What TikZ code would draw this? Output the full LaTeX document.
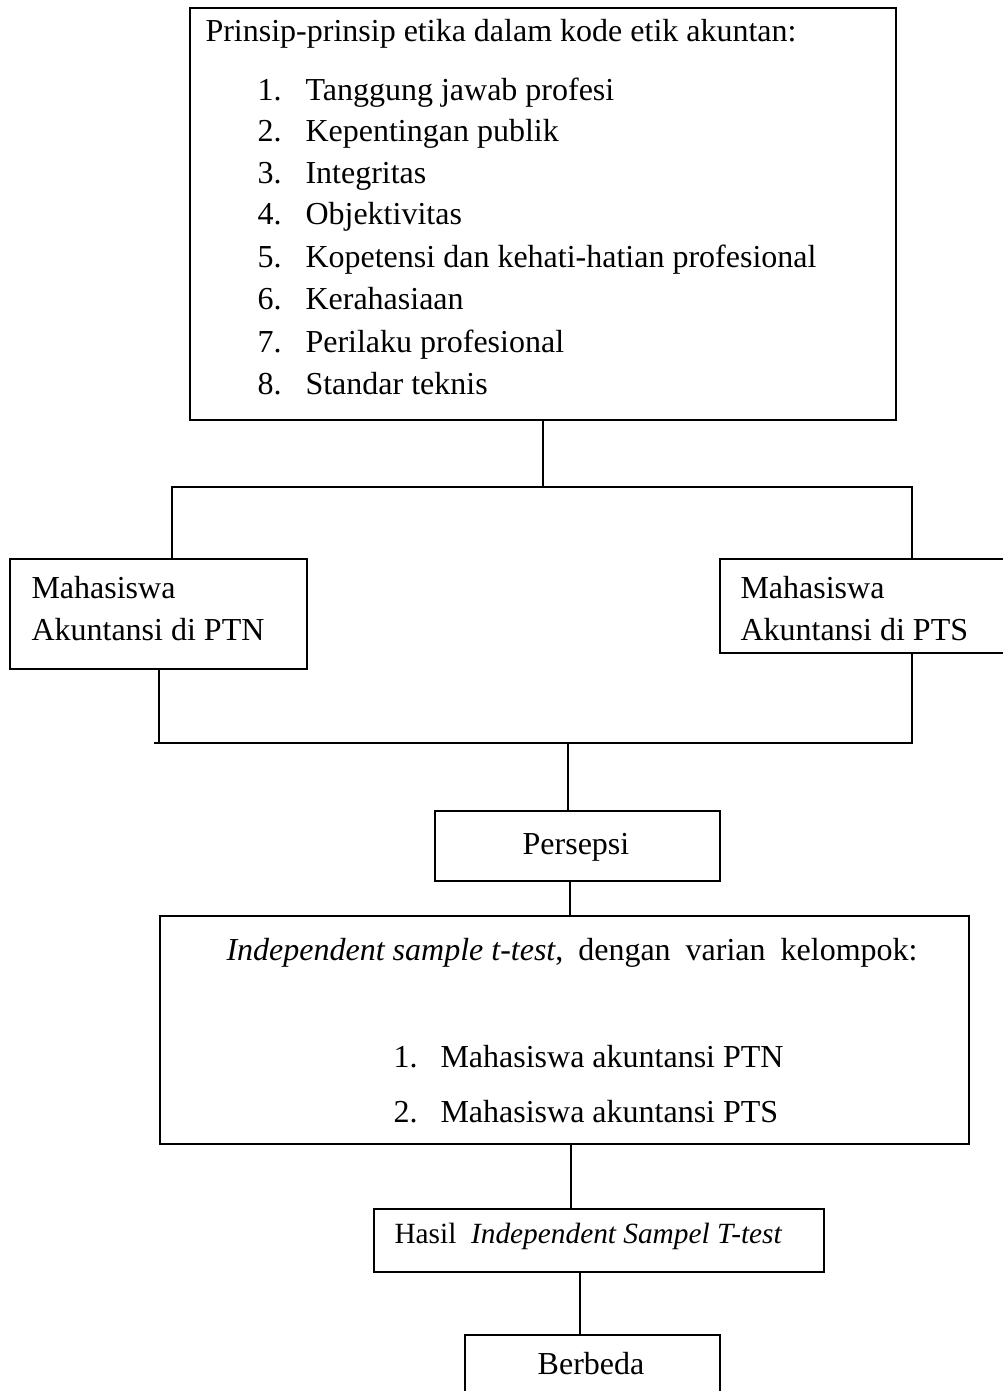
\documentclass[tikz,border=0pt]{standalone}
\usepackage{fontspec}
\setmainfont{Liberation Serif}

\newlength{\du}
\setlength{\du}{0.375pt}

\tikzset{
  diabox/.style={draw=dialinecolor, line width=2.4\du, inner sep=0pt, anchor=north west},
  dialabel/.style={anchor=base west, inner sep=0pt},
  diamid/.style={anchor=base, inner sep=0pt},
  dialine/.style={draw=dialinecolor, line width=2.4\du},
  every node/.style={font=\fontsize{12}{14}\selectfont}
}

\begin{document}
\begin{tikzpicture}
\pgftransformxscale{1.000000}
\pgftransformyscale{-1.000000}
\definecolor{dialinecolor}{rgb}{0.000000, 0.000000, 0.000000}
\pgfsetstrokecolor{dialinecolor}
\useasboundingbox (0\du,0\du) rectangle (1003\du,1391\du);
\clip (0\du,0\du) rectangle (1003\du,1391\du);
% prinsip etika
\node[diabox, minimum width=706\du, minimum height=412\du] (prinsip) at (189\du,7\du) {};
\node[dialabel] (judul) at (205\du,41\du) {Prinsip-prinsip etika dalam kode etik akuntan:};
\node[dialabel] (butir1) at (257\du,100\du) {\makebox[48\du][l]{1.}Tanggung jawab profesi};
\node[dialabel] (butir2) at (257\du,141\du) {\makebox[48\du][l]{2.}Kepentingan publik};
\node[dialabel] (butir3) at (257\du,183\du) {\makebox[48\du][l]{3.}Integritas};
\node[dialabel] (butir4) at (257\du,224\du) {\makebox[48\du][l]{4.}Objektivitas};
\node[dialabel] (butir5) at (257\du,267\du) {\makebox[48\du][l]{5.}Kopetensi dan kehati-hatian profesional};
\node[dialabel] (butir6) at (257\du,309\du) {\makebox[48\du][l]{6.}Kerahasiaan};
\node[dialabel] (butir7) at (257\du,352\du) {\makebox[48\du][l]{7.}Perilaku profesional};
\node[dialabel] (butir8) at (257\du,394\du) {\makebox[48\du][l]{8.}Standar teknis};
% mahasiswa
\node[diabox, minimum width=297\du, minimum height=110\du] (ptn) at (9\du,558\du) {};
\node[dialabel] (ptnA) at (31\du,598\du) {Mahasiswa};
\node[dialabel] (ptnB) at (31\du,640\du) {Akuntansi di PTN};
\node[diabox, minimum width=300\du, minimum height=94\du] (pts) at (719\du,558\du) {};
\node[dialabel] (ptsA) at (740\du,598\du) {Mahasiswa};
\node[dialabel] (ptsB) at (740\du,640\du) {Akuntansi di PTS};
% persepsi
\node[diabox, minimum width=285\du, minimum height=70\du] (persepsi) at (434\du,810\du) {};
\node[diamid] (tpersepsi) at (576\du,854\du) {Persepsi};
% uji t
\node[diabox, minimum width=809\du, minimum height=228\du] (uji) at (159\du,915\du) {};
\node[dialabel] (ujiJudul) at (226\du,960\du) {\textit{Independent sample t-test},\hspace{15\du}dengan\hspace{15\du}varian\hspace{15\du}kelompok:};
\node[dialabel] (uji1) at (393\du,1067\du) {\makebox[47\du][l]{1.}Mahasiswa akuntansi PTN};
\node[dialabel] (uji2) at (393\du,1122\du) {\makebox[47\du][l]{2.}Mahasiswa akuntansi PTS};
% hasil
\node[diabox, minimum width=450\du, minimum height=63\du] (hasil) at (373\du,1208\du) {};
\node[dialabel, font=\fontsize{11}{13}\selectfont] (thasil) at (394\du,1243\du) {Hasil\ \ \textit{Independent Sampel T-test}};
\node[diabox, minimum width=255\du, minimum height=80\du] (beda) at (464\du,1334\du) {};
\node[diamid] (tbeda) at (591\du,1374\du) {Berbeda};
% garis
\coordinate (atasKiri) at (172\du,487\du);
\coordinate (atasKanan) at (912\du,487\du);
\coordinate (bawahKiri) at (154\du,743\du);
\coordinate (bawahKanan) at (912\du,743\du);
\coordinate (bawahTengah) at (568\du,743\du);
\coordinate (sumbu1) at (570\du,0\du);
\coordinate (sumbu2) at (571\du,0\du);
\coordinate (sumbu3) at (580\du,0\du);
\draw[dialine] (prinsip.south) -- (prinsip.south |- atasKiri);
\draw[dialine] (ptn.north -| atasKiri) -- (atasKiri) -- (atasKanan) -- (pts.north -| atasKanan);
\draw[dialine] (ptn.south) -- (ptn.south |- bawahKiri);
\draw[dialine] (bawahKiri) -- (bawahKanan) -- (pts.south -| bawahKanan);
\draw[dialine] (bawahTengah) -- (persepsi.north -| bawahTengah);
\draw[dialine] (persepsi.south -| sumbu1) -- (uji.north -| sumbu1);
\draw[dialine] (uji.south -| sumbu2) -- (hasil.north -| sumbu2);
\draw[dialine] (hasil.south -| sumbu3) -- (beda.north -| sumbu3);
\end{tikzpicture}
\end{document}
